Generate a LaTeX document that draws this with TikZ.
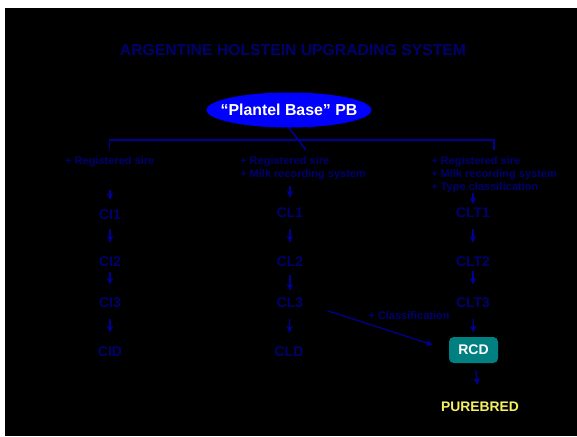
\documentclass[tikz,border=0pt]{standalone}
\usepackage{fontspec}
\setmainfont{Liberation Sans}
\usetikzlibrary{shapes.geometric,arrows.meta}

\definecolor{navytext}{RGB}{0,0,112}
\definecolor{navyline}{RGB}{0,0,150}
\definecolor{pbblue}{RGB}{0,0,255}
\definecolor{rcdteal}{RGB}{0,128,128}
\definecolor{pureyellow}{RGB}{245,240,95}

\tikzset{
	gen/.style={text=navytext, font=\bfseries\fontsize{10.5}{12}\selectfont, inner sep=0pt},
	cond/.style={text=navytext, font=\bfseries\fontsize{8.25}{9.75}\selectfont, align=left, inner sep=0pt, anchor=north west},
	arr/.style={-{Stealth[length=5pt,width=4.5pt,inset=1pt]}, navyline, line width=0.9pt, shorten <=8pt, shorten >=10pt},
	link/.style={navyline, line width=1.1pt},
}

\begin{document}
\begin{tikzpicture}[x=0.75pt,y=-0.75pt]
			\fill[white] (0,0) rectangle (577,436);
			\fill[black] (5,8) rectangle (577,436);
			\useasboundingbox (0,0) rectangle (577,436);
			
			\node[text=navytext, font=\bfseries\fontsize{11.8}{14}\selectfont] (title) at (293,50) {ARGENTINE HOLSTEIN UPGRADING SYSTEM};
			\node[ellipse, fill=pbblue, inner xsep=-7.5pt, inner ysep=0pt, minimum height=26.25pt, text=white, font=\bfseries\fontsize{11.9}{14}\selectfont] (pb) at (289,110) {“Plantel Base” PB};
			
			% requirements of each line
			\node[cond] (reg1) at (65,156) {+ Registered sire};
			\node[cond] (reg2) at (240,156) {+ Registered sire\\+ Milk recording system};
			\node[cond] (reg3) at (431,156) {+ Registered sire\\+ Milk recording system\\+ Type classification};
			
			\coordinate (tick) at (306,150);
			\draw[link, shorten <=5.25pt, shorten >=4.5pt] (reg1.north) -- ++(0,-16) -| (reg3.north);
			\draw[link] (pb.south) -- (tick);
			
			\node[gen] (ci1) at (110,215) {CI1};
			\node[gen] (ci2) at (110,262) {CI2};
			\node[gen] (ci3) at (110,303) {CI3};
			\node[gen] (cid) at (110,352) {CID};
			
			\node[gen] (cl1) at (290,213) {CL1};
			\node[gen] (cl2) at (290,262) {CL2};
			\node[gen] (cl3) at (290,303) {CL3};
			\node[gen] (cld) at (289,352) {CLD};
			
			\node[gen] (clt1) at (473,213) {CLT1};
			\node[gen] (clt2) at (473,262) {CLT2};
			\node[gen] (clt3) at (473,303) {CLT3};
			
			\node[rectangle, rounded corners=3.5pt, fill=rcdteal, inner sep=0pt, minimum width=36.75pt, minimum height=19.5pt, text=white, font=\bfseries\fontsize{10.5}{12}\selectfont] (rcd) at (473.5,350) {RCD};
			\node[inner sep=0pt, text=pureyellow, font=\bfseries\fontsize{10.4}{12}\selectfont] (pure) at (480,407) {PUREBRED};
			\node[inner sep=0pt, text=navytext, font=\bfseries\fontsize{8.3}{10}\selectfont] (cls) at (409,316) {+ Classification};
			
			\draw[arr, shorten <=17pt, shorten >=7.5pt] (reg1.south -| ci1) -- (ci1);
			\draw[arr, shorten <=4.5pt, shorten >=7.5pt] (reg2.south -| cl1) -- (cl1);
			\draw[arr, shorten <=0.5pt, shorten >=2.5pt] (reg3.south -| clt1) -- (clt1);
			
			\draw[arr, shorten <=6.75pt, shorten >=10.5pt] (ci1) -- (ci2);
			\draw[arr, shorten <=3.75pt, shorten >=9.75pt] (ci2) -- (ci3);
			\draw[arr, shorten <=8.25pt, shorten >=10.5pt] (ci3) -- (cid);
			
			\draw[arr, shorten <=8.25pt, shorten >=10.5pt] (cl1) -- (cl2);
			\draw[arr, shorten <=6pt, shorten >=5.25pt] (cl2) -- (cl3);
			\draw[arr, shorten <=8.25pt, shorten >=10.5pt] (cl3) -- (cld);
			
			\draw[arr, shorten <=8.25pt, shorten >=10.5pt] (clt1) -- (clt2);
			\draw[arr, shorten <=3pt, shorten >=9.75pt] (clt2) -- (clt3);
			\draw[arr, shorten <=8.25pt, shorten >=3pt] (clt3) -- (rcd);
			\draw[arr, shorten <=5.25pt, shorten >=12.75pt] (rcd) -- (pure);
			
			\draw[arr, shorten <=19pt, shorten >=12.5pt] (cl3.east) -- (rcd.west);
\end{tikzpicture}
\end{document}
